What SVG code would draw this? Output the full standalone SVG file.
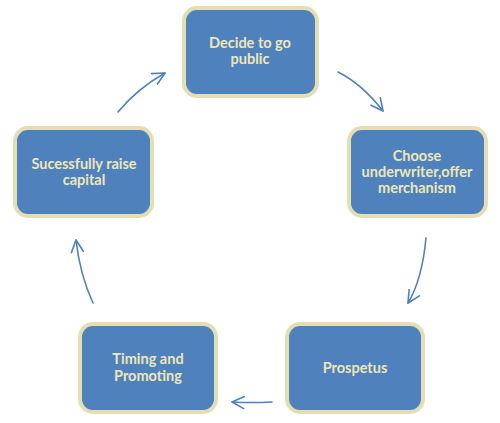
<svg xmlns="http://www.w3.org/2000/svg" width="500" height="423" viewBox="0 0 500 423">
<defs>
<style>
.box{fill:#4F81BD;stroke:#E3DEB3;stroke-width:4}
.lbl{font-family:Lato,"Open Sans","Liberation Sans",sans-serif;font-weight:bold;font-size:14.5px;fill:#EDE7B8;text-anchor:middle}
.con{fill:none;stroke:#4F81BD;stroke-width:1.6;stroke-linecap:round;stroke-linejoin:round}
</style>
<marker id="ah" viewBox="0 0 14 14" refX="13" refY="7" markerWidth="14" markerHeight="14" markerUnits="userSpaceOnUse" orient="auto">
<path d="M1,1 L13,7 L1,13" fill="none" stroke="#4F81BD" stroke-width="1.6" stroke-linecap="round" stroke-linejoin="round"/>
</marker>
</defs>
<rect width="500" height="423" fill="#FFFFFF"/>
<g id="node-decide">
<rect class="box" x="184" y="8" width="133" height="88" rx="13"/>
<text class="lbl" x="250" y="48">Decide to go</text>
<text class="lbl" x="250" y="64">public</text>
</g>
<g id="node-choose">
<rect class="box" x="349" y="128" width="137" height="88" rx="13"/>
<text class="lbl" x="417" y="161">Choose</text>
<text class="lbl" x="417" y="177">underwriter,offer</text>
<text class="lbl" x="417" y="193">merchanism</text>
</g>
<g id="node-prospetus">
<rect class="box" x="287" y="324" width="136" height="88" rx="13"/>
<text class="lbl" x="355" y="373">Prospetus</text>
</g>
<g id="node-timing">
<rect class="box" x="80" y="324" width="136" height="88" rx="13"/>
<text class="lbl" x="148" y="364">Timing and</text>
<text class="lbl" x="148" y="381">Promoting</text>
</g>
<g id="node-success">
<rect class="box" x="15" y="128" width="137" height="88" rx="13"/>
<text class="lbl" x="84" y="169">Sucessfully raise</text>
<text class="lbl" x="84" y="185">capital</text>
</g>
<g id="connectors">
<path class="con" d="M338,72 Q362,84 383,111" marker-end="url(#ah)"/>
<path class="con" d="M426,238 Q422,280 408,303" marker-end="url(#ah)"/>
<path class="con" d="M272,402 Q252,403 232,402" marker-end="url(#ah)"/>
<path class="con" d="M93,303 Q80,275 76,240" marker-end="url(#ah)"/>
<path class="con" d="M118,112 Q138,88 165,73" marker-end="url(#ah)"/>
</g>
</svg>
